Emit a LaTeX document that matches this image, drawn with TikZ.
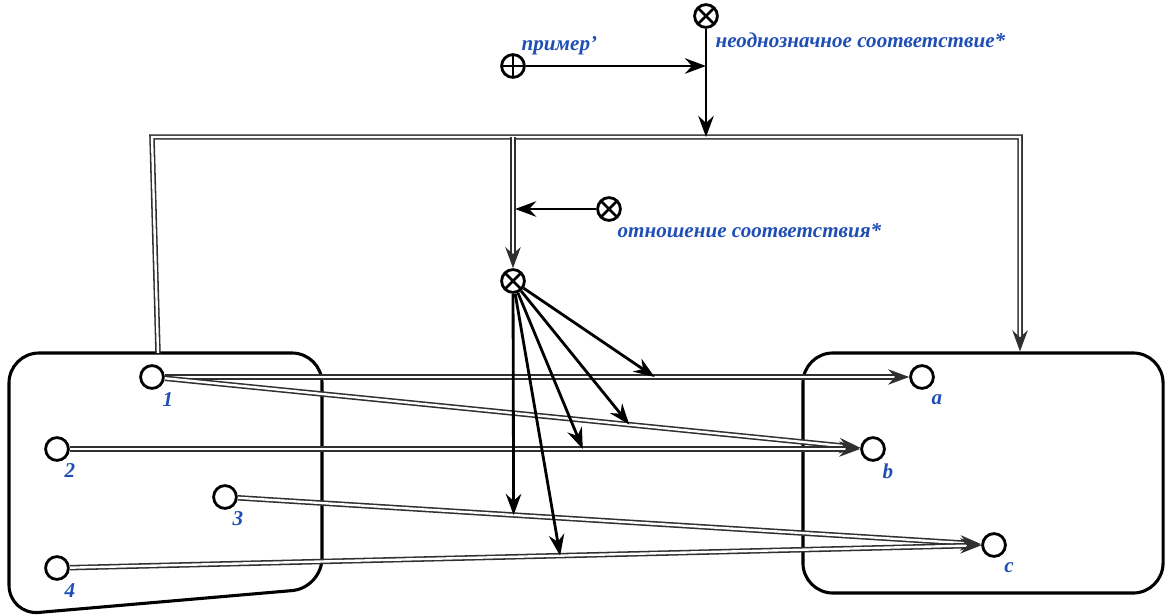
\documentclass[tikz,border=0pt]{standalone}
\usepackage{fontspec}
\setmainfont{Liberation Serif}
\usepackage{tikz}
\usetikzlibrary{arrows.meta}
\definecolor{labelblue}{HTML}{1F4FB4}
\definecolor{linegray}{HTML}{303030}

\begin{document}
\begin{tikzpicture}[
  x=0.025cm, y=-0.025cm,
  box/.style={draw=black, line width=2.2pt, rounded corners=0.75cm},
  vertex/.style={circle, draw=black, line width=2pt, minimum size=0.57cm, inner sep=0pt},
  xnode/.style={vertex, path picture={\draw[line width=1.8pt] (path picture bounding box.north west) -- (path picture bounding box.south east) (path picture bounding box.north east) -- (path picture bounding box.south west);}},
  pnode/.style={vertex, path picture={\draw[line width=1.8pt] (path picture bounding box.north) -- (path picture bounding box.south) (path picture bounding box.west) -- (path picture bounding box.east);}},
  lbl/.style={text=labelblue, inner sep=1pt, font=\fontsize{15}{18}\selectfont\bfseries\itshape},
  arr/.style={-{Stealth[length=15pt, width=11pt, inset=5pt]}, line width=2pt},
  dbl/.style={-{Stealth[length=15pt, width=11pt, inset=5pt]}, draw=linegray, line width=1.1pt, double=white, double distance=1.7pt}
]
  \useasboundingbox (0,0) rectangle (1168,616);

  % operators
  \node[xnode] (amb) at (706,16) {};
  \node[lbl, anchor=west] (amblbl) at (714,40) {неоднозначное соответствие*};
  \node[pnode] (ex) at (513,66) {};
  \node[lbl, anchor=west] (exlbl) at (520,46) {пример'};
  \node[xnode] (rel) at (609,209) {};
  \node[lbl, anchor=west] (rellbl) at (616,231) {отношение соответствия*};
  \node[xnode] (corr) at (513,281) {};

  % the two sets
  \draw[box] (160,353) -- (322,353) -- (322,588) -- (9,615) -- (9,353) -- cycle;
  \node[box, minimum width=9cm, minimum height=6cm] (setB) at (983,473) {};

  \node[vertex] (v1) at (152,377) {};
  \node[vertex] (v2) at (57,449) {};
  \node[vertex] (v3) at (225,497) {};
  \node[vertex] (v4) at (57,568) {};
  \node[lbl] (l1) at (168,400) {1};
  \node[lbl] (l2) at (70,471) {2};
  \node[lbl] (l3) at (238,519) {3};
  \node[lbl] (l4) at (70,591) {4};

  \node[vertex] (a) at (922,377) {};
  \node[vertex] (b) at (873,449) {};
  \node[vertex] (c) at (994,545) {};
  \node[lbl] (la) at (937,400) {a};
  \node[lbl] (lb) at (888,471) {b};
  \node[lbl] (lc) at (1009,568) {c};

  % bus
  \coordinate (busL) at (152,137);
  \coordinate (busR) at (1020,137);
  \coordinate (setA) at (158,353);
  \draw[dbl] (setA) -- (busL) -- (busR) -- (busR |- setB.north);
  \draw[arr] (amb) -- (amb |- busL);
  \draw[arr] (ex) -- (ex -| amb);
  \draw[dbl] (corr |- busL) -- (corr);
  \draw[arr, shorten >=1.5pt] (rel) -- (rel -| corr);

  % pairs
  \draw[dbl] (v1) -- (a) coordinate[pos=0.658] (m1a);
  \draw[dbl] (v1) -- (b) coordinate[pos=0.668] (m1b);
  \draw[dbl] (v2) -- (b) coordinate[pos=0.649] (m2b);
  \draw[dbl] (v3) -- (c) coordinate[pos=0.371] (m3c);
  \draw[dbl] (v4) -- (c) coordinate[pos=0.538] (m4c);

  \foreach \m in {m1a, m1b, m2b, m3c, m4c}
    \draw[arr] (corr) -- (\m);
\end{tikzpicture}
\end{document}
